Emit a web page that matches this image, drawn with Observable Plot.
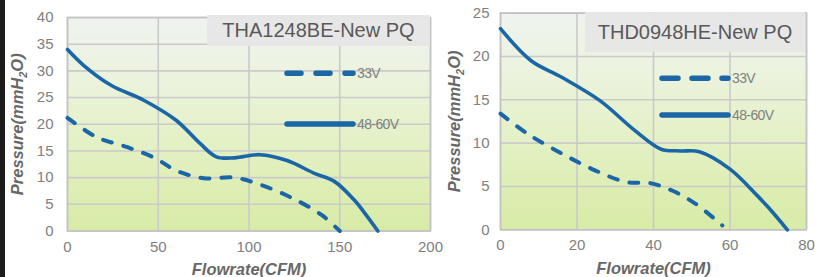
<!DOCTYPE html>
<html>
<head>
<meta charset="utf-8">
<script src="https://cdn.jsdelivr.net/npm/d3@7"></script>
<script src="https://cdn.jsdelivr.net/npm/@observablehq/plot@0.6"></script>
<style>
  html, body { margin: 0; padding: 0; background: #fff; }
  #wrap { position: relative; width: 815px; height: 277px; overflow: hidden; background: #fff;
          font-family: "Liberation Sans", Arial, sans-serif; }
  #wrap svg.plot { position: absolute; top: 0; background: transparent; }
  g[aria-label="x-axis label"] text, g[aria-label="y-axis label"] text {
    font-style: italic; font-weight: bold; fill: #686868; font-size: 16.5px;
  }
  .strip { position: absolute; left: 0; top: 0; width: 5px; height: 277px; background: #1c1c1c; }
  .titlebox { position: absolute; background: rgba(230,230,230,0.96); color: #595959;
              font-size: 20px; display: flex; align-items: center; justify-content: center; }
  .legend { position: absolute; left: 0; top: 0; }
  .cut { position: absolute; left: 60px; top: -26px; font-size: 29px; font-weight: bold; color: #2f3fcc;
         line-height: 29px; }
</style>
</head>
<body>
<div id="wrap"></div>
<script>
// ---- data ----
const titleL = "THA1248BE-New PQ";
const titleR = "THD0948HE-New PQ";
const seriesNames = ["33V", "48-60V"];
const xLabel = "Flowrate(CFM)";
const yLabel = "Pressure(mmH2O)";

const xTicksL = [0, 50, 100, 150, 200];
const yTicksL = [0, 5, 10, 15, 20, 25, 30, 35, 40];
const xTicksR = [0, 20, 40, 60, 80];
const yTicksR = [0, 5, 10, 15, 20, 25];

// Left: THA1248BE
const l33x = [0, 16, 33, 48, 60, 75, 92, 106, 123, 140, 150];
const l33y = [21.2, 17.6, 15.7, 13.7, 11.3, 9.9, 10.0, 8.7, 6.3, 3.0, 0];
const l48x = [0, 9, 24, 42, 60, 73, 82, 92, 106, 121, 136, 147, 158, 165, 171];
const l48y = [34, 31, 27.3, 24.5, 20.7, 16.4, 13.9, 13.7, 14.3, 13.2, 10.8, 9.3, 5.8, 2.8, 0];

// Right: THD0948HE
const r33x = [0, 7, 16, 25, 33, 39, 45, 51, 58];
const r33y = [13.4, 11.1, 8.8, 6.8, 5.5, 5.4, 4.5, 3.0, 0.5];
const r48x = [0, 8, 16, 26, 35, 42, 47, 52, 60, 67, 70, 75];
const r48y = [23.2, 19.5, 17.6, 14.9, 11.5, 9.3, 9.1, 9.0, 7.0, 4.0, 2.6, 0];

const lineColor = "#1a66a6";
const toPts = (xs, ys) => xs.map((x, i) => ({x, y: ys[i]}));

function addGradient(svg, id) {
  const ns = "http://www.w3.org/2000/svg";
  const defs = document.createElementNS(ns, "defs");
  defs.innerHTML = `<linearGradient id="${id}" x1="0" y1="0" x2="0" y2="1">
     <stop offset="0" stop-color="#eff3f0"/>
     <stop offset="0.3" stop-color="#ebf3dc"/>
     <stop offset="0.65" stop-color="#e2f0c0"/>
     <stop offset="1" stop-color="#d8eba6"/></linearGradient>`;
  svg.insertBefore(defs, svg.firstChild);
}

function subscriptLabel(svg) {
  const t = svg.querySelector('g[aria-label="y-axis label"] text');
  if (!t) return;
  const ns = "http://www.w3.org/2000/svg";
  const txt = t.textContent;
  const i = txt.indexOf("2");
  t.textContent = "";
  t.appendChild(document.createTextNode(txt.slice(0, i)));
  const sub = document.createElementNS(ns, "tspan");
  sub.setAttribute("font-size", "11px");
  sub.setAttribute("dy", "4");
  sub.textContent = "2";
  t.appendChild(sub);
  const rest = document.createElementNS(ns, "tspan");
  rest.setAttribute("dy", "-4");
  rest.textContent = txt.slice(i + 1);
  t.appendChild(rest);
}

function chart({width, mL, mR, mT, mB, xDomain, yDomain, xTicks, yTicks, s33, s48, gid, tickPadY, labelOffY, dash}) {
  const svg = Plot.plot({
    width, height: 277,
    marginLeft: mL, marginRight: mR, marginTop: mT, marginBottom: mB,
    style: {fontFamily: '"Liberation Sans", Arial, sans-serif', background: "transparent", overflow: "visible"},
    x: {domain: xDomain},
    y: {domain: yDomain},
    marks: [
      Plot.frame({fill: `url(#${gid})`, stroke: "none"}),
      Plot.gridX({ticks: xTicks, stroke: "#cacaca", strokeOpacity: 1, strokeWidth: 1.6}),
      Plot.gridY({ticks: yTicks, stroke: "#cacaca", strokeOpacity: 1, strokeWidth: 1.6}),
      Plot.frame({stroke: "#c2c2c2", strokeWidth: 1.5}),
      Plot.axisX({ticks: xTicks, tickSize: 0, tickPadding: 10, fontSize: 15, fill: "#808080",
                  label: xLabel, labelAnchor: "center", labelArrow: "none", labelOffset: 44}),
      Plot.axisY({ticks: yTicks, tickSize: 0, tickPadding: tickPadY, fontSize: 15, fill: "#808080",
                  label: yLabel, labelAnchor: "center", labelArrow: "none", labelOffset: labelOffY}),
      Plot.line(s33, {x: "x", y: "y", stroke: lineColor, strokeWidth: 4, strokeDasharray: dash,
                      strokeLinecap: "round", curve: "catmull-rom"}),
      Plot.line(s48, {x: "x", y: "y", stroke: lineColor, strokeWidth: 3.6, curve: "catmull-rom"})
    ]
  });
  svg.classList.add("plot");
  addGradient(svg, gid);
  subscriptLabel(svg);
  return svg;
}

const wrap = document.getElementById("wrap");

const left = chart({width: 440, mL: 67, mR: 10, mT: 17, mB: 46.5,
  xDomain: [0, 200], yDomain: [0, 40], xTicks: xTicksL, yTicks: yTicksL,
  s33: toPts(l33x, l33y), s48: toPts(l48x, l48y), gid: "bgL", tickPadY: 14, labelOffY: 56, dash: "9,12"});
left.style.left = "0px";
wrap.appendChild(left);

const right = chart({width: 375, mL: 60, mR: 9, mT: 12.6, mB: 47.7,
  xDomain: [0, 80], yDomain: [0, 25], xTicks: xTicksR, yTicks: yTicksR,
  s33: toPts(r33x, r33y), s48: toPts(r48x, r48y), gid: "bgR", tickPadY: 11, labelOffY: 52, dash: "9,12"});
right.style.left = "440px";
wrap.appendChild(right);

// title boxes
function titleBox(text, l, t, w, h) {
  const d = document.createElement("div");
  d.className = "titlebox";
  Object.assign(d.style, {left: l + "px", top: t + "px", width: w + "px", height: h + "px"});
  d.textContent = text;
  wrap.appendChild(d);
}
titleBox(titleL, 207, 15, 223, 31);
titleBox(titleR, 585, 12, 220, 40);

// legends (overlay)
function legend(x0, x1, yDash, ySolid, dash) {
  const ns = "http://www.w3.org/2000/svg";
  const s = document.createElementNS(ns, "svg");
  s.setAttribute("width", 815); s.setAttribute("height", 277);
  s.setAttribute("class", "legend");
  s.style.fontFamily = '"Liberation Sans", Arial, sans-serif';
  s.innerHTML = `
    <line x1="${x0}" x2="${x1}" y1="${yDash}" y2="${yDash}" stroke="${lineColor}" stroke-width="5.5" stroke-dasharray="${dash}" stroke-linecap="round"/>
    <text x="${x1 + 4}" y="${yDash}" dy="0.35em" font-size="14" fill="#808080" letter-spacing="-0.6">${seriesNames[0]}</text>
    <line x1="${x0}" x2="${x1}" y1="${ySolid}" y2="${ySolid}" stroke="${lineColor}" stroke-width="5.5" stroke-linecap="round"/>
    <text x="${x1 + 4}" y="${ySolid}" dy="0.35em" font-size="14" fill="#808080" letter-spacing="-0.6">${seriesNames[1]}</text>`;
  wrap.appendChild(s);
}
legend(287, 353, 73.3, 124, "14,15");
legend(662, 728, 78.3, 115, "16,14");

// left dark strip and cut-off heading (cut off at the top edge, as in the source image)
const strip = document.createElement("div"); strip.className = "strip"; wrap.appendChild(strip);
const cut = document.createElement("div"); cut.className = "cut"; cut.textContent = "Characters"; wrap.appendChild(cut);
</script>
</body>
</html>
